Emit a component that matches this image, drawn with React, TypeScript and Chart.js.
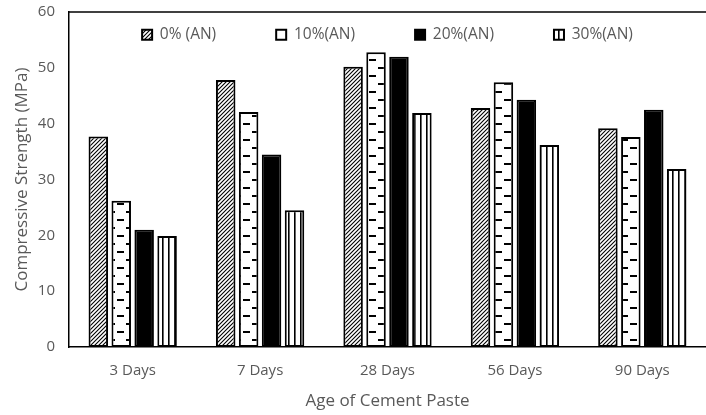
import React, { useEffect, useRef } from "react";
import { Chart, registerables } from "chart.js";

Chart.register(...registerables);

const categories = ["3 Days", "7 Days", "28 Days", "56 Days", "90 Days"];
const seriesNames = ["0% (AN)", "10%(AN)", "20%(AN)", "30%(AN)"];
const an0 = [37.7, 47.8, 50.2, 42.8, 39.2];
const an10 = [26.2, 42.1, 52.8, 47.4, 37.6];
const an20 = [21.0, 34.5, 52.0, 44.3, 42.5];
const an30 = [19.9, 24.5, 41.9, 36.2, 31.9];
const yTicks = [0, 10, 20, 30, 40, 50, 60];

const FONT = "'Open Sans', 'Noto Sans', sans-serif";
const TEXT = "#595959";
const LEGEND_PAD = 60;
const LEGEND_Y = 27;

function makePattern(kind: string): CanvasPattern | string {
  if (kind === "solid") return "#000000";
  const c = document.createElement("canvas");
  const ctx = c.getContext("2d") as CanvasRenderingContext2D;
  if (kind === "diag") {
    const s = 4;
    c.width = s;
    c.height = s;
    ctx.fillStyle = "#fff";
    ctx.fillRect(0, 0, s, s);
    ctx.strokeStyle = "#000";
    ctx.lineWidth = 1.1;
    ctx.beginPath();
    ctx.moveTo(0, s);
    ctx.lineTo(s, 0);
    ctx.moveTo(-1, 1);
    ctx.lineTo(1, -1);
    ctx.moveTo(s - 1, s + 1);
    ctx.lineTo(s + 1, s - 1);
    ctx.stroke();
  } else if (kind === "dash") {
    c.width = 18;
    c.height = 16;
    ctx.fillStyle = "#fff";
    ctx.fillRect(0, 0, 18, 16);
    ctx.fillStyle = "#000";
    ctx.fillRect(0, 3, 7, 2);
    ctx.fillRect(9, 11, 7, 2);
  } else if (kind === "vert") {
    c.width = 6;
    c.height = 6;
    ctx.fillStyle = "#fff";
    ctx.fillRect(0, 0, 6, 6);
    ctx.fillStyle = "#000";
    ctx.fillRect(0, 0, 1.6, 6);
  }
  return ctx.createPattern(c, "repeat") as CanvasPattern;
}

const legendPlace = {
  id: "legendPlace",
  beforeLayout(chart: any) {
    const lg = chart.legend;
    if (lg && !lg._patchedFit) {
      const orig = lg.fit;
      lg.fit = function () {
        orig.call(this);
        this.height = 0;
      };
      lg._patchedFit = true;
    }
  },
  afterLayout(chart: any) {
    const lg = chart.legend;
    if (lg) {
      lg.top = LEGEND_Y - LEGEND_PAD;
      lg.height = 2 * LEGEND_PAD + 40;
      lg.bottom = lg.top + lg.height;
    }
  },
};

const topBorder = {
  id: "topBorder",
  afterDraw(chart: any) {
    const { ctx, chartArea } = chart;
    ctx.save();
    ctx.strokeStyle = "#000";
    ctx.lineWidth = 1.5;
    ctx.beginPath();
    ctx.moveTo(chartArea.left, chartArea.top);
    ctx.lineTo(chartArea.right, chartArea.top);
    ctx.stroke();
    ctx.restore();
  },
};

export default function App() {
  const ref = useRef<HTMLCanvasElement | null>(null);
  useEffect(() => {
    if (!ref.current) return;
    const kinds = ["diag", "dash", "solid", "vert"];
    const values = [an0, an10, an20, an30];
    const datasets = seriesNames.map((name, i) => ({
      label: name,
      data: values[i],
      backgroundColor: makePattern(kinds[i]) as any,
      borderColor: "#000000",
      borderWidth: 2,
      borderSkipped: false as any,
      categoryPercentage: 0.72,
      barPercentage: 0.85,
    }));
    const chart = new Chart(ref.current, {
      type: "bar",
      data: { labels: categories, datasets },
      options: {
        animation: false,
        responsive: true,
        maintainAspectRatio: false,
        layout: { padding: { top: 12, right: 0, left: 0, bottom: 0 } },
        plugins: {
          tooltip: { enabled: false },
          legend: {
            display: true,
            position: "top",
            fullSize: false,
            labels: {
              boxWidth: 10,
              boxHeight: 10,
              padding: LEGEND_PAD,
              color: TEXT,
              font: { family: FONT, size: 15.5 },
            },
          },
        },
        scales: {
          x: {
            grid: { display: false, drawTicks: false },
            border: { display: true, color: "#000", width: 1.5 },
            ticks: { color: TEXT, font: { family: FONT, size: 15 }, padding: 15, maxRotation: 0 },
            title: {
              display: true,
              text: "Age of Cement Paste",
              color: TEXT,
              font: { family: FONT, size: 17 },
              padding: { top: 0, bottom: 4 },
            },
            afterFit: (s: any) => {
              s.height = 68;
              s.paddingLeft = 0;
              s.paddingRight = 0;
            },
          },
          y: {
            min: 0,
            max: 60,
            grid: { display: false, drawTicks: false },
            border: { display: true, color: "#000", width: 1.5 },
            afterBuildTicks: (s: any) => {
              s.ticks = yTicks.map((v) => ({ value: v }));
            },
            ticks: { color: TEXT, font: { family: FONT, size: 15 }, padding: 14 },
            title: {
              display: true,
              text: "Compressive Strength (MPa)",
              color: TEXT,
              font: { family: FONT, size: 17 },
              padding: { top: 12, bottom: 0 },
            },
            afterFit: (s: any) => {
              s.width = 69;
              s.paddingTop = 0;
              s.paddingBottom = 0;
            },
          },
        },
      },
      plugins: [legendPlace, topBorder],
    });
    return () => chart.destroy();
  }, []);
  return (
    <div style={{ position: "absolute", left: 0, top: 0, width: 706, height: 415, background: "#fff" }}>
      <canvas ref={ref} />
    </div>
  );
}
